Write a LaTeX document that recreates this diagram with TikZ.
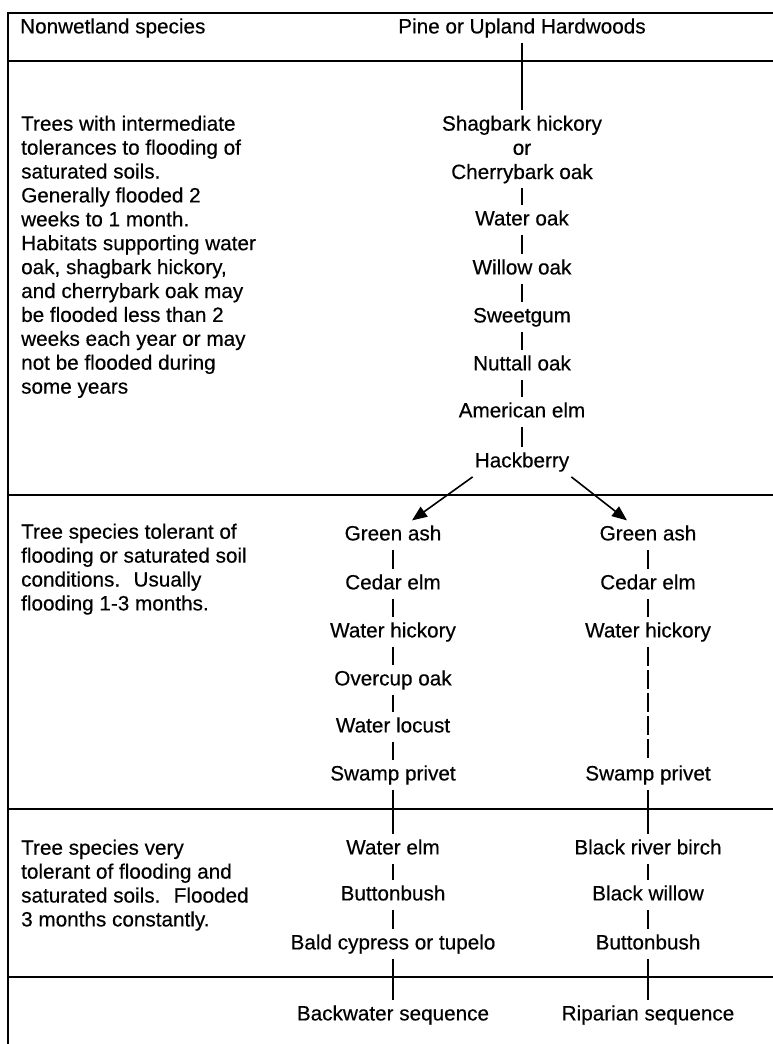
\documentclass[tikz,border=0pt]{standalone}
\usepackage{fontspec}
\setmainfont[FakeBold=0.4]{Liberation Sans}
\usetikzlibrary{arrows.meta}
\begin{document}
\begin{tikzpicture}[x=1pt,y=-1pt,
  frame/.style={line width=1.6pt},
  link/.style={line width=1.2pt},
  sp/.style={font=\fontsize{20.7}{23.9}\selectfont, text height=14.8pt, text depth=4.3pt, inner xsep=2pt, inner ysep=5pt, anchor=base},
  spm/.style={font=\fontsize{20.7}{24.2}\selectfont, align=center, inner xsep=2pt, inner ysep=5pt, anchor=north},
  desc/.style={font=\fontsize{20.7}{23.9}\selectfont, align=left, inner sep=0pt, anchor=north west},
  arr/.style={line width=1.6pt, -{Triangle[length=15pt,width=12pt]}}
]
\useasboundingbox (0,0) rectangle (773,1044);

% frame
\draw[frame] (773,13) -- (8,13) -- (8,1044);
\draw[frame] (8,61) -- (773,61);
\draw[frame] (8,495) -- (773,495);
\draw[frame] (8,809) -- (773,809);
\draw[frame] (8,977) -- (773,977);

% left descriptions
\node[font=\fontsize{20.7}{23.9}\selectfont, inner sep=0pt, anchor=base west] (hdr) at (20,33.4) {Nonwetland species};
\node[desc] (d1) at (21,115.5) {Trees with intermediate\\tolerances to flooding of\\saturated soils.\\Generally flooded 2\\weeks to 1 month.\\Habitats supporting water\\oak, shagbark hickory,\\and cherrybark oak may\\be flooded less than 2\\weeks each year or may\\not be flooded during\\some years};
\node[desc] (d2) at (21,523.5) {Tree species tolerant of\\flooding or saturated soil\\conditions.~ Usually\\flooding 1-3 months.};
\node[desc] (d3) at (21,839.5) {Tree species very\\tolerant of flooding and\\saturated soils.~ Flooded\\3 months constantly.};

% main chain
\node[sp] (pine) at (522,33.4) {Pine or Upland Hardwoods};
\node[spm] (shag) at (522,110.4) {Shagbark hickory\\or\\Cherrybark oak};
\node[sp] (woak) at (522,225.4) {Water oak};
\node[sp] (wioak) at (522,274.4) {Willow oak};
\node[sp] (sweet) at (522,322.4) {Sweetgum};
\node[sp] (nutt) at (522,370.4) {Nuttall oak};
\node[sp] (amelm) at (522,417.4) {American elm};
\node[sp] (hack) at (522,467.4) {Hackberry};

% backwater chain
\node[sp] (gaL) at (393,540.4) {Green ash};
\node[sp] (ceL) at (393,589.4) {Cedar elm};
\node[sp] (whL) at (393,637.4) {Water hickory};
\node[sp] (ooL) at (393,685.4) {Overcup oak};
\node[sp] (wlL) at (393,732.4) {Water locust};
\node[sp] (spL) at (393,780.4) {Swamp privet};
\node[sp] (weL) at (393,854.4) {Water elm};
\node[sp] (bbL) at (393,900.4) {Buttonbush};
\node[sp] (bcL) at (393,949.4) {Bald cypress or tupelo};
\node[sp] (bwsL) at (393,1020.4) {Backwater sequence};

% riparian chain
\node[sp] (gaR) at (648,540.4) {Green ash};
\node[sp] (ceR) at (648,589.4) {Cedar elm};
\node[sp] (whR) at (648,637.4) {Water hickory};
\node[sp] (spR) at (648,780.4) {Swamp privet};
\node[sp] (brbR) at (648,854.4) {Black river birch};
\node[sp] (bwR) at (648,900.4) {Black willow};
\node[sp] (bbR) at (648,949.4) {Buttonbush};
\node[sp] (ripR) at (648,1020.4) {Riparian sequence};

% connectors
\draw[link] (pine) -- (shag);
\draw[link] (shag) -- (woak);
\draw[link] (woak) -- (wioak);
\draw[link] (wioak) -- (sweet);
\draw[link] (sweet) -- (nutt);
\draw[link] (nutt) -- (amelm);
\draw[link] (amelm) -- (hack);
\draw[arr] (hack.south west) -- ([xshift=19pt]gaL.north);
\draw[arr] (hack.south east) -- ([xshift=-21pt]gaR.north);

\draw[link] (gaL) -- (ceL);
\draw[link] (ceL) -- (whL);
\draw[link] (whL) -- (ooL);
\draw[link] (ooL) -- (wlL);
\draw[link] (wlL) -- (spL);
\draw[link] (spL) -- (weL);
\draw[link] (weL) -- (bbL);
\draw[link] (bbL) -- (bcL);
\draw[link] (bcL) -- (bwsL);

\draw[link] (gaR) -- (ceR);
\draw[link] (ceR) -- (whR);
\draw[link, dash pattern=on 19pt off 4pt] (whR) -- (spR);
\draw[link] (spR) -- (brbR);
\draw[link] (brbR) -- (bwR);
\draw[link] (bwR) -- (bbR);
\draw[link] (bbR) -- (ripR);
\end{tikzpicture}
\end{document}
